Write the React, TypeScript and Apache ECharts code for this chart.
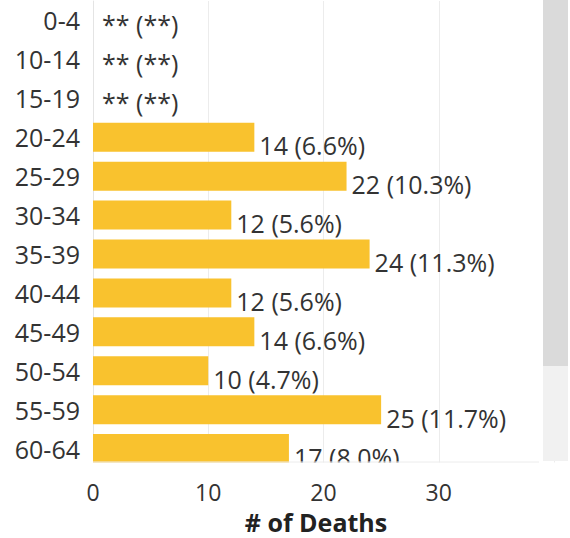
import { useEffect, useRef } from "react";
import * as echarts from "echarts";

// Deaths by age group; null marks a suppressed (small) count shown as "**".
const ageGroups = ["0-4", "10-14", "15-19", "20-24", "25-29", "30-34", "35-39", "40-44", "45-49", "50-54", "55-59", "60-64"];
const deaths: (number | null)[] = [null, null, null, 14, 22, 12, 24, 12, 14, 10, 25, 17];
const percentOfDeaths: (number | null)[] = [null, null, null, 6.6, 10.3, 5.6, 11.3, 5.6, 6.6, 4.7, 11.7, 8.0];

const FONT = "'Open Sans', 'Noto Sans', sans-serif";
const TEXT = "#333333";
const BAR = "#F9C22E";

export default function App() {
  const ref = useRef<HTMLDivElement>(null);

  useEffect(() => {
    document.body.style.margin = "0";
    if (!ref.current) return;
    const chart = echarts.init(ref.current, null, { renderer: "svg" });

    const data = deaths.map((d) => ({
      value: d ?? 0,
      label: { offset: d == null ? [4, 4] : [0, 8] },
    }));

    chart.setOption({
      animation: false,
      backgroundColor: "#ffffff",
      textStyle: { fontFamily: FONT },
      grid: {
        left: 93,
        top: 1,
        width: 461,
        height: 467,
        containLabel: false,
        outerBoundsMode: "none",
      },
      xAxis: {
        type: "value",
        min: 0,
        max: 40,
        interval: 10,
        axisLine: { show: false },
        axisTick: { show: false },
        splitLine: { show: true, lineStyle: { color: "#ececec", width: 1 } },
        axisLabel: {
          showMaxLabel: false,
          color: TEXT,
          fontSize: 23,
          lineHeight: 22,
          fontFamily: FONT,
          margin: 13,
        },
        name: "# of Deaths",
        nameLocation: "middle",
        nameGap: 43,
        nameTextStyle: {
          color: "#222222",
          fontSize: 25,
          lineHeight: 22,
          fontWeight: "bold",
          fontFamily: FONT,
          padding: [0, 15, 0, 0],
        },
      },
      yAxis: {
        type: "category",
        data: ageGroups,
        inverse: true,
        axisLine: { show: true, lineStyle: { color: "#e4e4e4" } },
        axisTick: { show: false },
        splitLine: { show: false },
        axisLabel: { color: TEXT, fontSize: 25, fontFamily: FONT, margin: 13 },
      },
      series: [
        {
          type: "bar",
          data,
          barWidth: 29,
          itemStyle: { color: BAR },
          label: {
            show: true,
            position: "right",
            distance: 5,
            color: TEXT,
            fontSize: 25,
            fontFamily: FONT,
            formatter: (p: any) => {
              const d = deaths[p.dataIndex];
              const pct = percentOfDeaths[p.dataIndex];
              return d == null || pct == null ? "** (**)" : `${d} (${pct.toFixed(1)}%)`;
            },
          },
        },
      ],
      graphic: {
        z: 100,
        elements: [
          // white strip that crops the plot at its lower edge
          { type: "rect", z: 100, shape: { x: 82, y: 462.5, width: 488, height: 10 }, style: { fill: "#ffffff" } },
          { type: "line", z: 101, shape: { x1: 93, y1: 462, x2: 539, y2: 462 }, style: { stroke: "#ececec", lineWidth: 1 } },
          // scroll bar track and thumb
          { type: "rect", z: 100, shape: { x: 540, y: 0, width: 3, height: 472 }, style: { fill: "#ffffff" } },
          { type: "rect", z: 101, shape: { x: 543, y: 0, width: 25, height: 366 }, style: { fill: "#dadada" } },
          { type: "rect", z: 101, shape: { x: 543, y: 366, width: 25, height: 95 }, style: { fill: "#f1f1f1" } },
          { type: "rect", z: 100, shape: { x: 568, y: 0, width: 2, height: 472 }, style: { fill: "#ffffff" } },
        ],
      },
    });

    return () => chart.dispose();
  }, []);

  return <div ref={ref} style={{ width: 570, height: 538 }} />;
}
